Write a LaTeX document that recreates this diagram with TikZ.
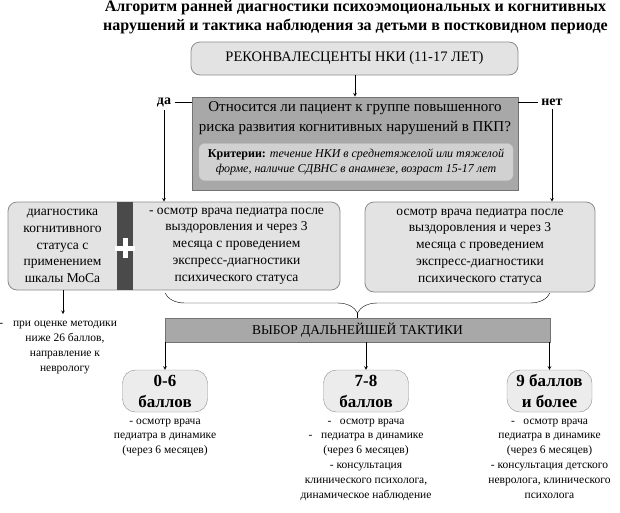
\documentclass[tikz,border=0pt]{standalone}
\usepackage{fontspec}
\setmainfont{Liberation Serif}
\usetikzlibrary{positioning}
\usetikzlibrary{calc}
\usetikzlibrary{decorations.pathreplacing}

\tikzset{
  lightbox/.style={draw=gray!90, fill=gray!22, rounded corners=9pt, line width=0.8pt},
  darkbox/.style={draw=gray!110, fill=gray!68, line width=0.8pt},
  boxtext/.style={align=center, font=\fontsize{13.5}{16.8}\selectfont},
  smalltext/.style={align=center, font=\fontsize{11.5}{14.8}\selectfont},
  scorebox/.style={draw=gray!90, fill=gray!15, rounded corners=13pt, align=center,
    font=\bfseries\fontsize{17}{21}\selectfont, minimum width=85pt, minimum height=42pt, inner sep=0pt},
  arr/.style={->, >=stealth, line width=0.6pt},
}

\begin{document}
\begin{tikzpicture}[x=1pt, y=-1pt]
  \useasboundingbox (0,0) rectangle (620,512);

  \node[align=center, font=\bfseries\fontsize{16}{18.5}\selectfont] (title) at (355.5,17)
    {Алгоритм ранней диагностики психоэмоциональных и когнитивных\\нарушений и тактика наблюдения за детьми в постковидном периоде};

  \node[lightbox, align=center, font=\fontsize{14.5}{17}\selectfont, minimum width=327pt, minimum height=33pt] (patients) at (354.5,58.5)
    {РЕКОНВАЛЕСЦЕНТЫ НКИ (11-17 ЛЕТ)};

  % question block
  \node[darkbox, minimum width=326pt, minimum height=93pt] (question) at (355,143.5) {};
  \node[align=center, font=\fontsize{15}{20}\selectfont] (qtext) at (355,118)
    {Относится ли пациент к группе повышенного\\риска развития когнитивных нарушений в ПКП?};
  \node[fill=gray!36, draw=gray!45, rounded corners=6pt, minimum width=314pt, minimum height=37pt,
    align=center, font=\fontsize{12}{15.5}\selectfont] (criteria) at (356,162)
    {\textbf{Критерии:} \textit{течение НКИ в среднетяжелой или тяжелой}\\\textit{форме, наличие СДВНС в анамнезе, возраст 15-17 лет}};

  \node[font=\bfseries\fontsize{14}{16}\selectfont] (yes) at (164,102) {да};
  \node[font=\bfseries\fontsize{14}{16}\selectfont] (no) at (552,102) {нет};
  \draw (yes.east) -- (yes.east -| question.west);
  \draw (no.west) -- (no.west -| question.east);
  \draw[arr] (question.north |- patients.south) -- (question.north);

  % left block: MoCA + exam
  \node[lightbox, minimum width=332pt, minimum height=88pt] (leftbox) at (174,246) {};
  \node[fill=black!71, minimum width=16pt, minimum height=88pt, inner sep=0pt] (stripe) at (125,246) {};
  \draw[white, line width=5pt] ($(stripe.center)+(-10,2)$) -- ($(stripe.center)+(10,2)$);
  \draw[white, line width=5pt] ($(stripe.center)+(0,-8)$) -- ($(stripe.center)+(0,12)$);
  \node[boxtext] (moca) at (62.5,246) {диагностика\\когнитивного\\статуса с\\применением\\шкалы МоСа};
  \node[boxtext] (exam1) at (236.5,246) {- осмотр врача педиатра после\\выздоровления и через 3\\месяца с проведением\\экспресс-диагностики\\психического статуса};

  % right block
  \node[lightbox, boxtext, minimum width=230pt, minimum height=90pt] (exam2) at (480,247)
    {осмотр врача педиатра после\\выздоровления и через 3\\месяца с проведением\\экспресс-диагностики\\психического статуса};

  \draw[arr] (yes.south) -- (yes.south |- leftbox.north);
  \draw[arr] (no.south) -- (no.south |- exam2.north);

  % MoCA result
  \coordinate (mocadown) at (63,314);
  \draw[arr] (mocadown |- leftbox.south) -- (mocadown);
  \node[smalltext, anchor=north] (mocares) at (65,318)
    {\llap{-\hspace{10pt}}при оценке методики\\ниже 26 баллов,\\направление к\\неврологу};

  % tactics
  \coordinate (braceL) at (165,293);
  \coordinate (braceR) at (550,293);
  \draw[decorate, decoration={brace, mirror, amplitude=20pt}] (braceL) -- (braceR);
  \node[darkbox, align=center, font=\fontsize{13.5}{16}\selectfont, minimum width=385pt, minimum height=24pt] (tactics) at (357.5,330)
    {ВЫБОР ДАЛЬНЕЙШЕЙ ТАКТИКИ};
  \draw ($(braceL)!0.5!(braceR)+(0,20)$) -- (tactics.north);

  % scores
  \node[scorebox] (low) at (165,391) {0-6\\баллов};
  \node[scorebox] (mid) at (366,391) {7-8\\баллов};
  \node[scorebox] (high) at (549.5,391) {9 баллов\\и более};
  \foreach \s in {low, mid, high}
    \draw[arr] (\s.north |- tactics.south) -- (\s.north);

  \node[smalltext, below=3pt of low] (lowtext)
    {- осмотр врача\\педиатра в динамике\\(через 6 месяцев)};
  \node[smalltext, below=3pt of mid] (midtext)
    {-\ \ \ осмотр врача\\-\ \ \ педиатра в динамике\\(через 6 месяцев)\\- консультация\\клинического психолога,\\динамическое наблюдение};
  \node[smalltext, below=3pt of high] (hightext)
    {-\ \ \ осмотр врача\\педиатра в динамике\\(через 6 месяцев)\\- консультация детского\\невролога, клинического\\психолога};
\end{tikzpicture}
\end{document}
